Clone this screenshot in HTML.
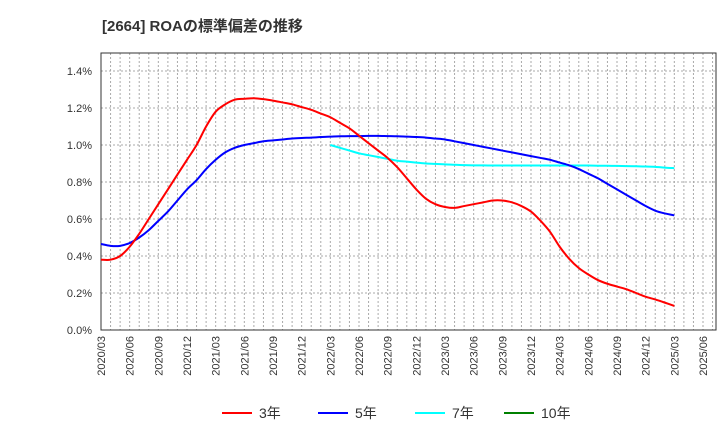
<!DOCTYPE html>
<html><head><meta charset="utf-8"><style>
body{margin:0;background:#fff;}
svg text{font-family:"Liberation Sans","Noto Sans CJK JP",sans-serif;}
</style></head><body>
<svg id="chart" width="720" height="440" xmlns="http://www.w3.org/2000/svg">
<text x="102" y="31" font-size="15" font-weight="bold" fill="#333">[2664]  ROAの標準偏差の推移</text>
<g id="grid"></g>
<g id="axes"></g>
<g id="series"></g>
<g id="legend"></g>
</svg>
<script>
const yTicks=[0,0.2,0.4,0.6,0.8,1.0,1.2,1.4];
const xTickLabels=["2020/03","2020/06","2020/09","2020/12","2021/03","2021/06","2021/09","2021/12","2022/03","2022/06","2022/09","2022/12","2023/03","2023/06","2023/09","2023/12","2024/03","2024/06","2024/09","2024/12","2025/03","2025/06"];
const red3=[.38,.38,.40,.45,.52,.60,.68,.76,.84,.92,
1.00,1.10,1.18,1.22,1.245,1.25,1.253,1.248,1.24,1.23,1.22,1.205,
1.19,1.17,1.15,1.12,1.09,1.05,1.01,.97,.93,.88,.82,.76,
.71,.68,.665,.66,.67,.68,.69,.70,.70,.69,.67,.64,
.59,.53,.45,.385,.335,.30,.27,.25,.235,.22,.20,.18,
.165,.148,.13];
const blue5=[.465,.455,.455,.47,.50,.54,.59,.64,.70,.76,
.81,.87,.92,.96,.985,1.00,1.01,1.02,1.025,1.03,1.035,1.038,
1.04,1.043,1.045,1.047,1.048,1.048,1.049,1.049,1.048,1.047,1.045,1.043,
1.04,1.035,1.03,1.02,1.01,1.00,.99,.98,.97,.96,.95,.94,
.93,.92,.905,.89,.87,.845,.82,.79,.76,.73,.70,.67,
.645,.63,.62];
const cyan7Start=24;
const cyan7=[1.00,.985,.97,.955,.945,.935,.925,.915,.91,.905,
.90,.898,.895,.893,.891,.89,.89,.889,.889,.889,.889,.889,
.889,.889,.889,.889,.889,.889,.888,.888,.887,.886,.885,.884,
.882,.878,.875];
const green10=[];

const NS="http://www.w3.org/2000/svg";
const X0=101,X1=703,Y0=330,YT=53,MONTHS=63;
const xs=i=>X0+i*(X1-X0)/MONTHS;
const ys=v=>Y0-v*(Y0-71)/1.4;
function mk(tag,attrs,parent){const e=document.createElementNS(NS,tag);for(const k in attrs)e.setAttribute(k,attrs[k]);parent.appendChild(e);return e;}
const grid=document.getElementById('grid'),axes=document.getElementById('axes'),series=document.getElementById('series'),legend=document.getElementById('legend');
for(let m=1;m<=MONTHS+1;m++){const x=xs(m);if(x>=716)break;
const l=mk('line',{x1:x,x2:x,y1:YT,y2:Y0,stroke:'#aaa','stroke-dasharray':'2,2','stroke-width':1},grid);

}
yTicks.forEach(v=>{const y=ys(v);
if(v>0){const l=mk('line',{x1:X0,x2:716,y1:y,y2:y,stroke:'#aaa','stroke-dasharray':'2,2','stroke-width':1},grid);

}
const t=mk('text',{x:92,y:y+4,'font-size':11,'text-anchor':'end',fill:'#333'},axes);t.textContent=v.toFixed(1)+'%';

});
const r=mk('rect',{x:X0,y:YT,width:716-X0,height:Y0-YT,fill:'none',stroke:'#333','stroke-width':1},axes);


xTickLabels.forEach((s,i)=>{const x=xs(i*3);const t=mk('text',{x:0,y:0,'font-size':11,'text-anchor':'end',fill:'#333',transform:`translate(${x+4},336) rotate(-90)`},axes);t.textContent=s;

});
function smooth(pts){let d=`M${pts[0][0]},${pts[0][1]}`;for(let i=0;i<pts.length-1;i++){const p0=pts[i-1]||pts[i],p1=pts[i],p2=pts[i+1],p3=pts[i+2]||p2;
d+=` C${p1[0]+(p2[0]-p0[0])/6},${p1[1]+(p2[1]-p0[1])/6} ${p2[0]-(p3[0]-p1[0])/6},${p2[1]-(p3[1]-p1[1])/6} ${p2[0]},${p2[1]}`;}return d;}
function draw(vals,start,color,name){if(!vals.length)return;const pts=vals.map((v,i)=>[xs(start+i),ys(v)]);
const p=mk('path',{d:smooth(pts),fill:'none',stroke:color,'stroke-width':2},series);

}
draw(cyan7,cyan7Start,'#00ffff','line-7yr');
draw(blue5,0,'#0000ff','line-5yr');
draw(red3,0,'#ff0000','line-3yr');
draw(green10,0,'#008000','line-10yr');
[['3年','#ff0000',222],['5年','#0000ff',318],['7年','#00ffff',415],['10年','#008000',504]].forEach(([lab,c,x])=>{
const g=mk('g',{},legend);


mk('line',{x1:x,x2:x+30,y1:413,y2:413,stroke:c,'stroke-width':2},g);
const t=mk('text',{x:x+37,y:418,'font-size':14,fill:'#333'},g);t.textContent=lab;});
</script>
</body></html>
